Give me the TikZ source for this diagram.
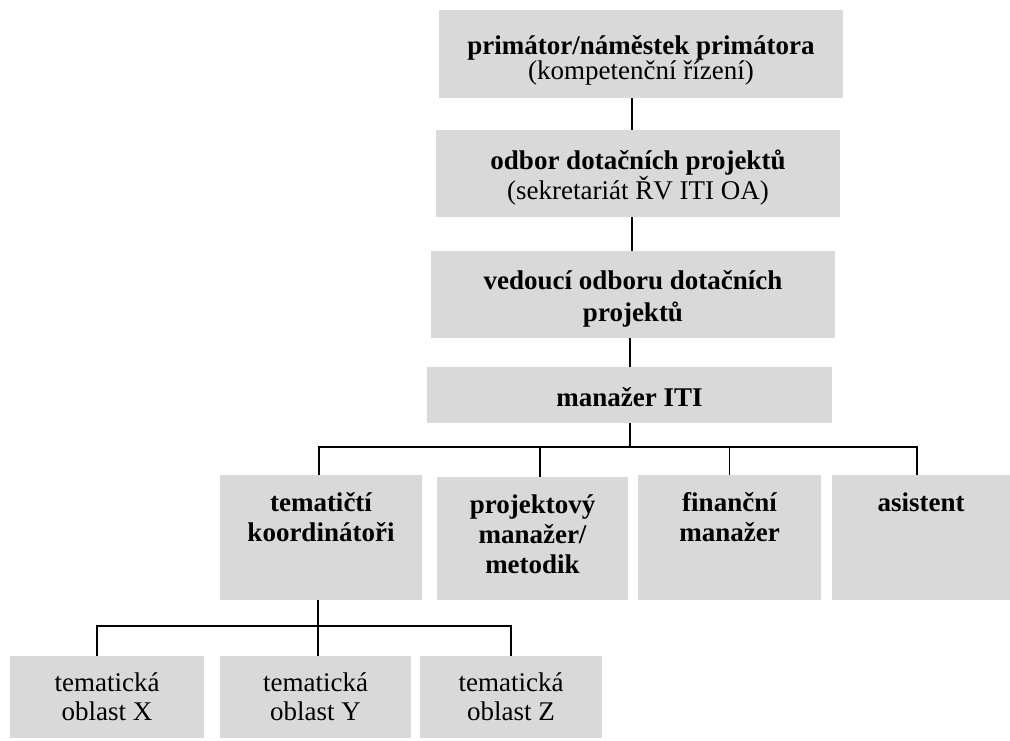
\documentclass[tikz,border=0pt]{standalone}
\usepackage{fontspec}
\setmainfont{Liberation Serif}
\usetikzlibrary{calc}

\tikzset{
  cell/.style={fill=black!15, inner sep=0pt},
  midtxt/.style={align=center, inner sep=0pt, font=\fontsize{27}{30}\selectfont},
  toptxt/.style={anchor=base, align=center, inner sep=0pt, font=\fontsize{27}{30}\selectfont\bfseries},
  link/.style={line width=1.8pt},
}

\begin{document}
\begin{tikzpicture}[x=1pt,y=-1pt]
  % Constants
  \pgfmathsetmacro\spinex{632}
  \pgfmathsetmacro\busy{447}
  \pgfmathsetmacro\subbusy{626}
  % Boundary
  \path[use as bounding box] (0,0) rectangle (1010,740);
  % Upper chain
  \node[cell, minimum width=404, minimum height=88] (prim) at (641,54) {};
  \node[cell, minimum width=404, minimum height=87] (odbor) at (638,173.5) {};
  \node[cell, minimum width=404, minimum height=87] (vedouci) at (633,294.5) {};
  \node[cell, minimum width=405, minimum height=56] (manazer) at (629.5,395) {};
  \node[midtxt] (primtxt) at ([yshift=-6]prim.center) {\textbf{primátor/náměstek primátora}\\[-5pt](kompetenční řízení)};
  \node[midtxt] (odbortxt) at ([yshift=-4]odbor.center) {\textbf{odbor dotačních projektů}\\(sekretariát ŘV ITI OA)};
  \node[midtxt] (vedoucitxt) at ([yshift=-4]vedouci.center) {\bfseries vedoucí odboru dotačních\\[2pt]\bfseries projektů};
  \node[midtxt] (manazertxt) at ([yshift=-2]manazer.center) {\bfseries manažer ITI};
  % Team row
  \node[cell, minimum width=202, minimum height=125] (koord) at (321,537.5) {};
  \node[cell, minimum width=191, minimum height=123] (projekt) at (532.5,538.5) {};
  \node[cell, minimum width=183, minimum height=125] (financ) at (729.5,537.5) {};
  \node[cell, minimum width=178, minimum height=125] (asist) at (921,537.5) {};
  \node[toptxt] (koordtxt) at ([yshift=-67]koord.north) {tematičtí\\koordinátoři};
  \node[toptxt] (projekttxt) at ([yshift=-97]projekt.north) {projektový\\manažer/\\metodik};
  \node[toptxt] (financtxt) at ([yshift=-67]financ.north) {finanční\\manažer};
  \node[toptxt] (asisttxt) at ([yshift=-37]asist.north) {asistent};
  % Thematic areas
  \node[cell, minimum width=194, minimum height=82] (oblx) at (107,697) {};
  \node[cell, minimum width=191, minimum height=82] (obly) at (315.5,697) {};
  \node[cell, minimum width=182, minimum height=82] (oblz) at (511,697) {};
  \node[midtxt] (oblxtxt) at (oblx) {tematická\\[-1pt]oblast X};
  \node[midtxt] (oblytxt) at (obly) {tematická\\[-1pt]oblast Y};
  \node[midtxt] (oblztxt) at (oblz) {tematická\\[-1pt]oblast Z};
  % Connectors
  \coordinate (spine) at (\spinex,0);
  \coordinate (hub) at (630,\busy);
  \coordinate (subhub) at (318,\subbusy);
  \draw[link] (prim.south -| spine) -- (odbor.north -| spine);
  \draw[link] (odbor.south -| spine) -- (vedouci.north -| spine);
  \draw[link] (vedouci.south -| hub) -- (manazer.north -| hub);
  \draw[link] (manazer.south -| hub) -- (hub);
  \draw[link] (hub) -| ([xshift=-2]koord.north);
  \draw[link] (hub) -| ([xshift=7.5]projekt.north);
  \draw[link] (hub) -| (financ.north);
  \draw[link] (hub) -| ([xshift=-4]asist.north);
  \draw[link] ([xshift=-3]koord.south) -- (subhub);
  \draw[link] (subhub) -| ([xshift=-10]oblx.north);
  \draw[link] (subhub) -- ([xshift=2.5]obly.north);
  \draw[link] (subhub) -| (oblz.north);
\end{tikzpicture}
\end{document}
